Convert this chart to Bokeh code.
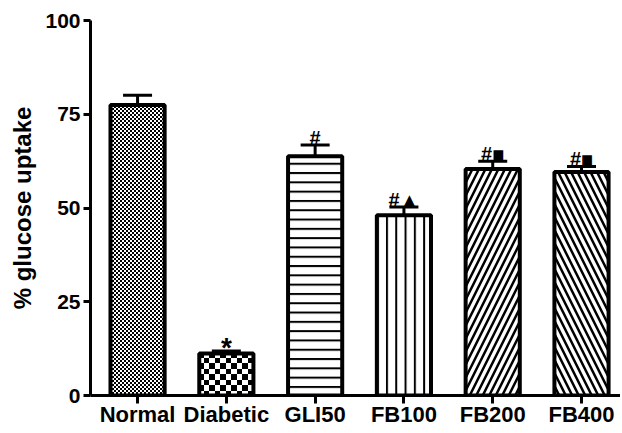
import base64
from bokeh.plotting import figure
from bokeh.models import Range1d, FixedTicker, Whisker, ColumnDataSource, ImageURLTexture, TeeHead
from bokeh.core.properties import value
from bokeh.embed import file_html
from bokeh.resources import INLINE

categories = ["Normal", "Diabetic", "GLI50", "FB100", "FB200", "FB400"]
means = [77.5, 11.2, 63.8, 48.1, 60.4, 59.6]
sems = [2.6, 0.7, 3.0, 2.2, 2.1, 1.5]
marks = ["", "*", "#", "#\u25b2", "#\u25a0", "#\u25a0"]
y_ticks = [0, 25, 50, 75, 100]

patterns = ["fine_checker", "coarse_checker", "-", "|", "/", "\\"]
scales = [4, 11, 9.3, 9.3, 13, 13]
weights = [1, 1, 2, 2, 2.5, 2.5]

FONT = "Liberation Sans"
x = list(range(len(categories)))
upper = [m + s for m, s in zip(means, sems)]


def checker_url(n):
    h = n / 2
    svg = (f'<svg xmlns="http://www.w3.org/2000/svg" width="{n}" height="{n}" '
           f'shape-rendering="crispEdges">'
           f'<rect width="{n}" height="{n}" fill="white"/>'
           f'<rect width="{h}" height="{h}" fill="black"/>'
           f'<rect x="{h}" y="{h}" width="{h}" height="{h}" fill="black"/></svg>')
    return "data:image/svg+xml;base64," + base64.b64encode(svg.encode()).decode()


extra = {"fine_checker": ImageURLTexture(url=checker_url(4)),
         "coarse_checker": ImageURLTexture(url=checker_url(11))}

W, H = 620, 433
p = figure(width=W, height=H, output_backend="svg", toolbar_location=None,
           x_range=Range1d(-0.53, 5 + (W - 581) / 88.8), y_range=Range1d(0, 100),
           min_border_left=90, min_border_top=20, min_border_bottom=H - 395, min_border_right=0)
p.outline_line_color = None
p.grid.visible = False
p.background_fill_color = "white"

for i in x:
    p.vbar(x=[x[i]], top=[means[i]], bottom=0, width=0.61,
           fill_color="white", line_color="black", line_width=4,
           hatch_pattern=value(patterns[i]), hatch_color="black",
           hatch_scale=scales[i], hatch_weight=weights[i],
           hatch_extra=extra)

src = ColumnDataSource(dict(x=x, lower=means, upper=upper))
wh = Whisker(base="x", lower="lower", upper="upper", source=src,
             line_color="black", line_width=3,
             upper_head=TeeHead(size=29, line_width=3, line_color="black"),
             lower_head=None)
p.add_layout(wh)

hash_src = ColumnDataSource(dict(
    x=[x[i] for i, m in enumerate(marks) if m and m != "*"],
    y=[upper[i] for i, m in enumerate(marks) if m and m != "*"],
    t=[m for m in marks if m and m != "*"]))
star_src = ColumnDataSource(dict(
    x=[x[i] for i, m in enumerate(marks) if m == "*"],
    y=[upper[i] for i, m in enumerate(marks) if m == "*"],
    t=[m for m in marks if m == "*"]))

p.text(x="x", y="y", text="t", source=hash_src,
       text_align="center", text_baseline="alphabetic", y_offset=-7, text_font=value(FONT),
       text_font_style="bold", text_font_size="20px", text_color="black")
p.text(x="x", y="y", text="t", source=star_src,
       text_align="center", text_baseline="middle", y_offset=-3, text_font=value(FONT),
       text_font_style="bold", text_font_size="28px", text_color="black")

# y axis
ya = p.yaxis[0]
ya.ticker = FixedTicker(ticks=y_ticks)
ya.axis_label = "% glucose uptake"
ya.axis_label_text_font = FONT
ya.axis_label_text_font_style = "bold"
ya.axis_label_text_font_size = "24px"
ya.axis_label_text_color = "black"
ya.axis_label_standoff = 6
ya.major_label_text_font = FONT
ya.major_label_text_font_style = "bold"
ya.major_label_text_font_size = "21px"
ya.major_label_text_color = "black"
ya.major_label_standoff = 3
ya.axis_line_width = 3
ya.major_tick_line_width = 3
ya.major_tick_out = 7
ya.major_tick_in = 0
ya.minor_tick_line_color = None

xa = p.xaxis[0]
xa.ticker = FixedTicker(ticks=x)
xa.major_label_overrides = {i: c for i, c in zip(x, categories)}
xa.major_label_text_font = FONT
xa.major_label_text_font_style = "bold"
xa.major_label_text_font_size = "22px"
xa.major_label_text_color = "black"
xa.major_label_standoff = -2
xa.axis_line_width = 3
xa.major_tick_line_width = 3
xa.major_tick_out = 8
xa.major_tick_in = 0
xa.minor_tick_line_color = None

open("out.html", "w").write(file_html(p, INLINE))
